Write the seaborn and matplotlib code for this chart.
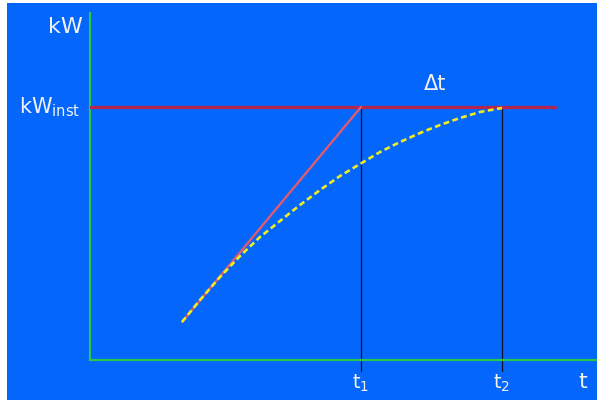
import matplotlib
matplotlib.use("Agg")
import matplotlib.pyplot as plt
import seaborn as sns
from matplotlib.patches import Rectangle

# values (time units on x, kW units on y)
kw_inst = 7.29
t1 = 5.345
t2 = 8.126
line_end = 9.17

curve_t = [1.815, 2.170, 2.564, 2.959, 3.353, 3.748, 4.142, 4.537, 4.931,
           5.325, 5.720, 6.114, 6.509, 6.903, 7.298, 7.692, 8.126]
curve_kw = [1.095, 1.729, 2.392, 2.997, 3.545, 4.006, 4.467, 4.899, 5.303,
            5.648, 5.994, 6.282, 6.542, 6.772, 6.974, 7.147, 7.262]

tangent_t = [1.815, t1]
tangent_kw = [1.095, kw_inst]

blue = "#0566FB"
green = "#27C84A"
text_col = "#F2F2F2"

sns.set_style("white")

fig = plt.figure(figsize=(5.97, 4.0), dpi=100)
fig.patch.set_facecolor("white")
fig.patches.append(Rectangle((7 / 597, 0), 1, 397 / 400, transform=fig.transFigure,
                             facecolor=blue, edgecolor="none", zorder=-1))

ax = fig.add_axes([90 / 597, 40 / 400, 1 - 90 / 597, (360 - 13) / 400])
ax.set_facecolor("none")
ax.set_xlim(0, 10)
ax.set_ylim(0, 10)

# kW_inst level
ax.plot([0, line_end], [kw_inst, kw_inst], color="#B5264E", lw=2.3, zorder=3)

# vertical markers at t1 and t2
for t in (t1, t2):
    ax.plot([t, t], [kw_inst, -0.32], color="#111122", lw=0.9, clip_on=False, zorder=2)

# tangent line
ax.plot(tangent_t, tangent_kw, color="#DE5B6E", lw=1.7, zorder=3)

# real ramp-up curve
sns.lineplot(x=curve_t, y=curve_kw, sort=False, ax=ax, color="#F0EC22",
             lw=1.9, linestyle=(0, (2.2, 1.3)), zorder=4)

for side in ["top", "right"]:
    ax.spines[side].set_visible(False)
for side in ["left", "bottom"]:
    ax.spines[side].set_color(green)
    ax.spines[side].set_linewidth(1.6)
ax.set_xticks([])
ax.set_yticks([])

# labels
ax.text(-0.14, 9.6, "kW", color=text_col, fontsize=16, ha="right", va="center", clip_on=False)
ax.text(-0.2, kw_inst, "kW$_{\\mathregular{inst}}$", color=text_col, fontsize=15,
        ha="right", va="center", clip_on=False)
ax.text(6.8, 7.95, "\u0394t", color=text_col, fontsize=15, ha="center", va="center")
ax.text(t1, -0.66, "t$_{\\mathregular{1}}$", color=text_col, fontsize=14,
        ha="center", va="center", clip_on=False)
ax.text(t2, -0.66, "t$_{\\mathregular{2}}$", color=text_col, fontsize=14,
        ha="center", va="center", clip_on=False)
ax.text(9.72, -0.62, "t", color=text_col, fontsize=16, ha="center", va="center", clip_on=False)

fig.savefig("out.png", dpi=100, facecolor=fig.get_facecolor())
